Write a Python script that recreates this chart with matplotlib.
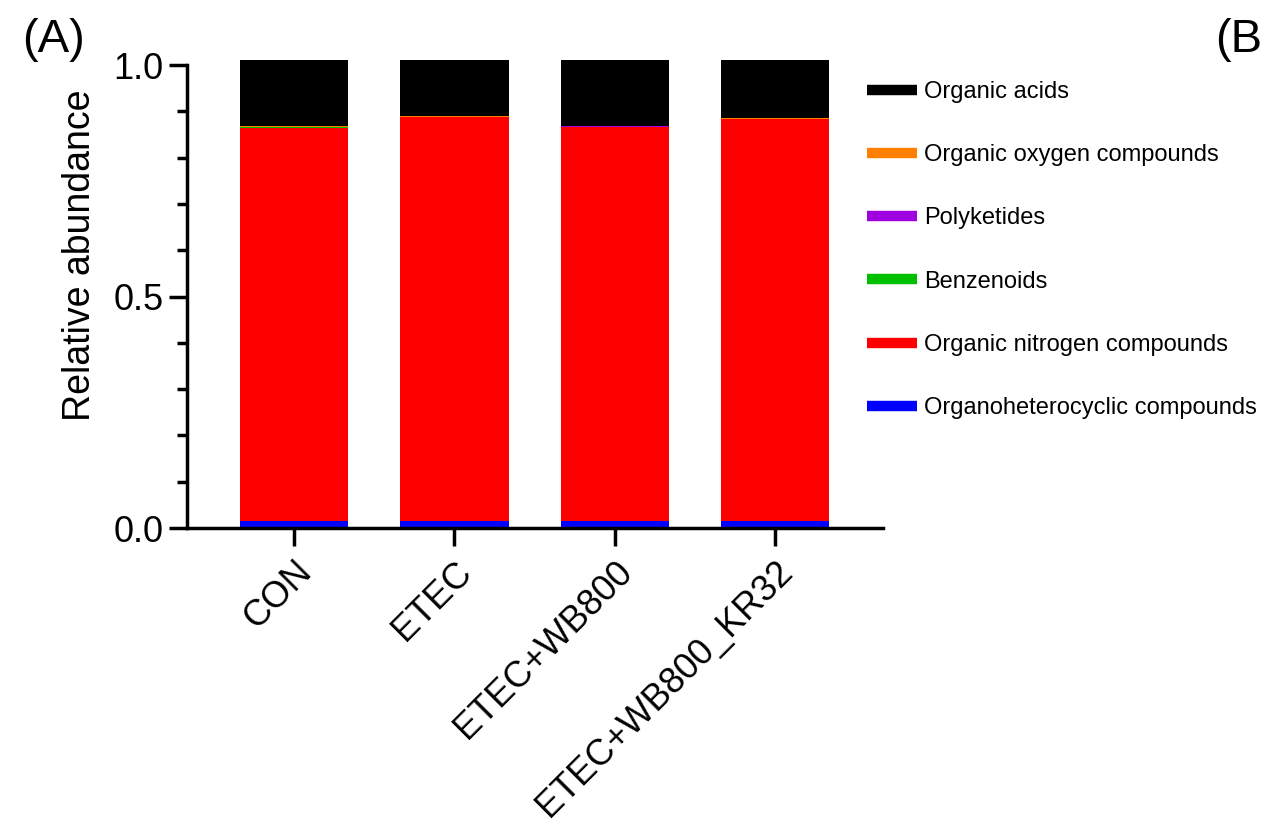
import numpy as np
import matplotlib
matplotlib.use("Agg")
import matplotlib.pyplot as plt
from matplotlib.lines import Line2D

plt.rcParams['font.family'] = ['Liberation Sans', 'DejaVu Sans']

groups = ["CON", "ETEC", "ETEC+WB800", "ETEC+WB800_KR32"]

# stacked from bottom to top
classes = ["Organoheterocyclic compounds", "Organic nitrogen compounds",
           "Benzenoids", "Polyketides", "Organic oxygen compounds", "Organic acids"]
colors = ["#0000FF", "#FF0000", "#00C000", "#A000E0", "#FF8000", "#000000"]

organoheterocyclic = [0.016, 0.016, 0.016, 0.016]
organic_nitrogen = [0.849, 0.871, 0.851, 0.868]
benzenoids = [0.0002, 0.0002, 0.0002, 0.0002]
polyketides = [0.0002, 0.0002, 0.0002, 0.0002]
organic_oxygen = [0.002, 0.002, 0.002, 0.0008]
organic_acids = [0.144, 0.122, 0.142, 0.126]

values = [organoheterocyclic, organic_nitrogen, benzenoids,
          polyketides, organic_oxygen, organic_acids]

fig = plt.figure(figsize=(12.62, 8.33), dpi=100)
ax = fig.add_axes([0.1482, 0.3661, 0.5515, 0.5669])

x = np.arange(len(groups))
bottom = np.zeros(len(groups))
for vals, col in zip(values, colors):
    ax.bar(x, vals, width=0.675, bottom=bottom, color=col, linewidth=0)
    bottom += np.array(vals)

ax.set_xlim(-0.669, 3.675)
ax.set_ylim(0, 1.02)
ax.spines['left'].set_bounds(0, 1)
ax.spines['top'].set_visible(False)
ax.spines['right'].set_visible(False)
for s in ['left', 'bottom']:
    ax.spines[s].set_linewidth(2.5)

ax.set_yticks([0, 0.5, 1.0])
ax.set_yticklabels(["0.0", "0.5", "1.0"])
ax.set_yticks(np.arange(0.1, 1.0, 0.1), minor=True)
ax.tick_params(axis='y', which='major', length=13, width=2.5, labelsize=26, pad=4)
ax.tick_params(axis='y', which='minor', length=7, width=2.5)
ax.set_xticks(x)
ax.set_xticklabels(groups)
ax.tick_params(axis='x', length=13, width=2.5, labelsize=26, pad=6)
plt.setp(ax.get_xticklabels(), rotation=45, ha="right", rotation_mode="anchor")

ax.set_ylabel("Relative abundance", fontsize=27)
ax.yaxis.set_label_coords(-0.128, 0.578)

handles = [Line2D([0], [0], color=c, lw=7.5, solid_capstyle='butt')
           for c in colors[::-1]]
fig.legend(handles, classes[::-1], loc='upper left',
           bbox_to_anchor=(0.687, 0.903), bbox_transform=fig.transFigure,
           frameon=False, fontsize=17, handlelength=2.12, handletextpad=0.3,
           labelspacing=1.75, borderpad=0, borderaxespad=0)

fig.text(22 / 1262, 1 - 40 / 833, "(A)", fontsize=34, ha='left', va='center')
fig.text(1215 / 1262, 1 - 40 / 833, "(B)", fontsize=34, ha='left', va='center')

fig.savefig("out.png", dpi=100)
